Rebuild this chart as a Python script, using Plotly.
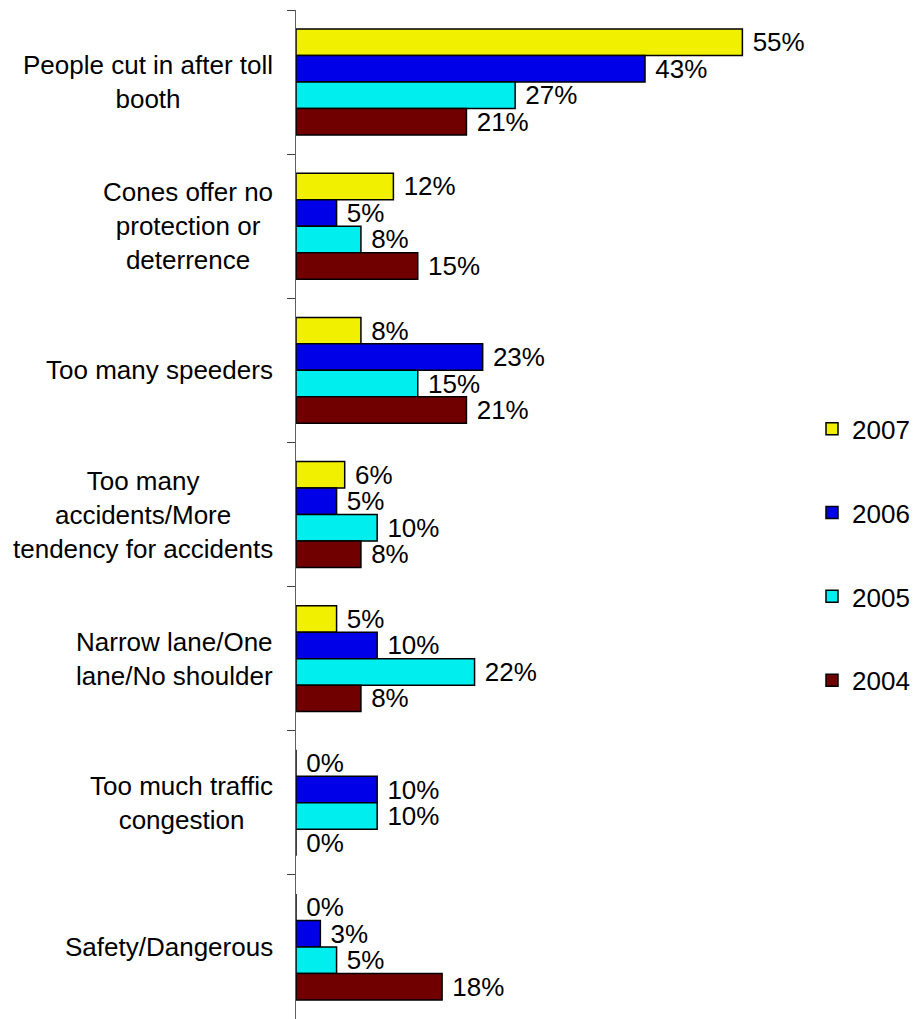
import plotly.graph_objects as go

# Categories (multi-line labels) and yearly percentages
categories = [
    "People cut in after toll<br>booth",
    "Cones offer no<br>protection or<br>deterrence",
    "Too many speeders",
    "Too many<br>accidents/More<br>tendency for accidents",
    "Narrow lane/One<br>lane/No shoulder",
    "Too much traffic<br>congestion",
    "Safety/Dangerous",
]
years = ["2007", "2006", "2005", "2004"]
values_2007 = [55, 12, 8, 6, 5, 0, 0]
values_2006 = [43, 5, 23, 5, 10, 10, 3]
values_2005 = [27, 8, 15, 10, 22, 10, 5]
values_2004 = [21, 15, 21, 8, 8, 0, 18]
series_values = [values_2007, values_2006, values_2005, values_2004]
colors = ["#F0F000", "#0000E8", "#00EEEE", "#700000"]

FONT = "Liberation Sans, Arial, sans-serif"

fig = go.Figure()
for year, vals, color in zip(years, series_values, colors):
    fig.add_trace(go.Bar(
        y=categories,
        x=vals,
        orientation="h",
        name=year,
        legendgroup=year,
        marker=dict(color=color, line=dict(color="#000000", width=1.5)),
        texttemplate="\u00a0%{x}%",
        textposition="outside",
        constraintext="none",
        cliponaxis=False,
        textfont=dict(size=26, color="#000000", family=FONT),
    ))

# Category labels: right-anchored boxes, centred lines
for cat in categories:
    fig.add_annotation(
        x=0, xref="paper", y=cat, yref="y",
        text=cat, showarrow=False,
        xanchor="right", yanchor="middle", align="center",
        xshift=-21,
        font=dict(size=26, color="#000000", family=FONT),
    )

fig.update_layout(
    width=915, height=1019,
    margin=dict(l=296, r=0, t=10, b=0),
    paper_bgcolor="#FFFFFF",
    plot_bgcolor="#FFFFFF",
    barmode="group",
    bargap=0.265,
    bargroupgap=0,
    font=dict(family=FONT, size=26, color="#000000"),
    showlegend=True,
    legend=dict(
        x=0.835, xanchor="left",
        y=0.46, yanchor="middle",
        traceorder="grouped",
        tracegroupgap=47,
        font=dict(size=26, family=FONT, color="#000000"),
        bgcolor="rgba(0,0,0,0)",
    ),
    xaxis=dict(
        range=[0, 60],
        domain=[0, 0.788],
        visible=False,
        showgrid=False,
        zeroline=False,
    ),
    yaxis=dict(
        autorange="reversed",
        showticklabels=False,
        ticks="outside",
        tickson="boundaries",
        ticklen=8,
        tickcolor="#404040",
        showline=True,
        linecolor="#606060",
        linewidth=1,
        showgrid=False,
        zeroline=False,
    ),
)

fig.write_html("out.html")
